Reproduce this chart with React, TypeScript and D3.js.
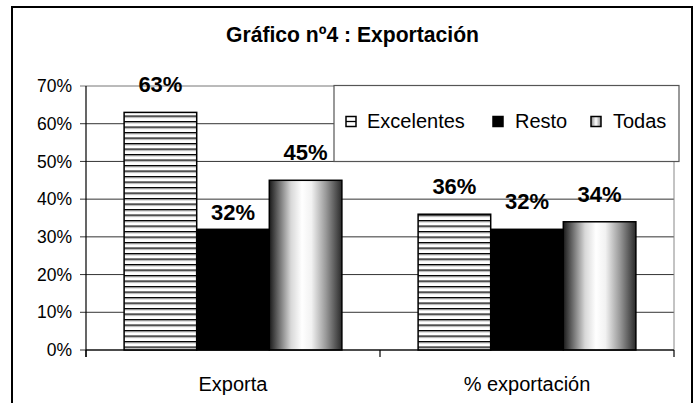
import React from "react";
import * as d3 from "d3";

const categories = ["Exporta", "% exportación"];
const seriesNames = ["Excelentes", "Resto", "Todas"];
const excelentes = [0.63, 0.36];
const resto = [0.32, 0.32];
const todas = [0.45, 0.34];
const yTicks = [0, 0.1, 0.2, 0.3, 0.4, 0.5, 0.6, 0.7];
const title = "Gráfico nº4 : Exportación";

const W = 696;
const H = 403;
const FONT = "'Liberation Sans', Arial, Helvetica, sans-serif";

export default function App() {
  const values = [excelentes, resto, todas];
  const left = 86, right = 674, top = 86, bottom = 350;
  const x0 = d3.scaleBand<string>().domain(categories).range([left, right]).padding(0);
  const bw = x0.bandwidth();
  const gap = bw * (1.05 / (3 + 1.05));
  const x1 = d3.scaleBand<string>().domain(seriesNames).range([gap / 2, bw - gap / 2]).padding(0);
  const y = d3.scaleLinear().domain([0, 0.7]).range([bottom, top]);
  const pct = d3.format(".0%");
  const fills = ["url(#hatch)", "#000", "url(#grad)"];
  // label distance above bar (one label was moved by hand in the original)
  const labelGap = (ci: number, si: number) => (ci === 0 && si === 1 ? 9 : 20);

  const legendItems = [
    { name: seriesNames[0], sx: 346, tx: 367 },
    { name: seriesNames[1], sx: 493, tx: 515 },
    { name: seriesNames[2], sx: 591, tx: 613 },
  ];

  return (
    <svg width={W} height={H} style={{ position: "absolute", left: 0, top: 0, background: "#fff" }} fontFamily={FONT}>
      <defs>
        <pattern id="hatch" patternUnits="userSpaceOnUse" width={8} height={5.5}>
          <rect width={8} height={5.5} fill="#fff" />
          <rect y={0} width={8} height={1.4} fill="#000" />
          <rect y={1.4} width={8} height={0.8} fill="#999" />
        </pattern>
        <linearGradient id="grad" x1="0" x2="1" y1="0" y2="0">
          <stop offset="0" stopColor="#1a1a1a" />
          <stop offset="0.12" stopColor="#666" />
          <stop offset="0.3" stopColor="#d8d8d8" />
          <stop offset="0.45" stopColor="#fff" />
          <stop offset="0.58" stopColor="#f2f2f2" />
          <stop offset="0.78" stopColor="#999" />
          <stop offset="1" stopColor="#2a2a2a" />
        </linearGradient>
        <linearGradient id="gradL" x1="0" x2="1" y1="0" y2="0">
          <stop offset="0" stopColor="#888" />
          <stop offset="0.5" stopColor="#fff" />
          <stop offset="1" stopColor="#888" />
        </linearGradient>
      </defs>

      {/* outer frame */}
      <rect x={12} y={7} width={680} height={H + 10} fill="#fff" stroke="#000" strokeWidth={2} />

      {/* title */}
      <text x={352.5} y={42} textAnchor="middle" fontSize={22} fontWeight="bold" fill="#000" textLength={253} lengthAdjust="spacingAndGlyphs">
        {title}
      </text>

      {/* gridlines */}
      {yTicks.map((t) => (
        <line key={"g" + t} x1={left - 6} x2={right} y1={y(t)} y2={y(t)} stroke={t === 0.7 ? "#777" : "#333"} strokeWidth={1} />
      ))}
      {/* plot area right border */}
      <line x1={right} x2={right} y1={top} y2={bottom} stroke="#888" strokeWidth={1} />

      {/* y tick labels */}
      {yTicks.map((t) => (
        <text key={"t" + t} x={72} y={y(t)} dy="0.35em" textAnchor="end" fontSize={17.5} fill="#000">
          {pct(t)}
        </text>
      ))}

      {/* bars */}
      {categories.map((c, ci) =>
        seriesNames.map((s, si) => {
          const v = values[si][ci];
          const bx = (x0(c) as number) + (x1(s) as number);
          return (
            <rect
              key={c + s}
              x={bx}
              y={y(v)}
              width={x1.bandwidth()}
              height={bottom - y(v)}
              fill={fills[si]}
              stroke="#000"
              strokeWidth={1.5}
            />
          );
        })
      )}

      {/* axes */}
      <line x1={left} x2={left} y1={top} y2={bottom + 7} stroke="#000" strokeWidth={1.2} />
      <line x1={left} x2={right} y1={bottom} y2={bottom} stroke="#000" strokeWidth={1.2} />
      {d3.range(categories.length + 1).map((i) => {
        const xx = left + i * bw;
        return <line key={"xt" + i} x1={xx} x2={xx} y1={bottom} y2={bottom + 7} stroke="#000" strokeWidth={1.2} />;
      })}

      {/* category labels */}
      {categories.map((c) => (
        <text key={"cl" + c} x={(x0(c) as number) + bw / 2} y={391} textAnchor="middle" fontSize={20} fill="#000">
          {c}
        </text>
      ))}

      {/* legend */}
      <rect x={334} y={85.5} width={345} height={76} fill="#fff" stroke="#555" strokeWidth={1.2} />
      {legendItems.map((it, i) => (
        <g key={"lg" + i}>
          <rect
            x={it.sx}
            y={116.5}
            width={10}
            height={10}
            fill={i === 1 ? "#000" : i === 2 ? "url(#gradL)" : "#fff"}
            stroke="#000"
            strokeWidth={1.5}
          />
          {i === 0 && <line x1={it.sx} x2={it.sx + 10} y1={121.5} y2={121.5} stroke="#000" strokeWidth={1.3} />}
          <text x={it.tx} y={128} fontSize={20} fill="#000">
            {it.name}
          </text>
        </g>
      ))}

      {/* data labels */}
      {categories.map((c, ci) =>
        seriesNames.map((s, si) => {
          const v = values[si][ci];
          const cx = (x0(c) as number) + (x1(s) as number) + x1.bandwidth() / 2;
          return (
            <text key={"dl" + c + s} x={cx} y={y(v) - labelGap(ci, si)} textAnchor="middle" fontSize={22} fontWeight="bold" fill="#000">
              {pct(v)}
            </text>
          );
        })
      )}
    </svg>
  );
}
